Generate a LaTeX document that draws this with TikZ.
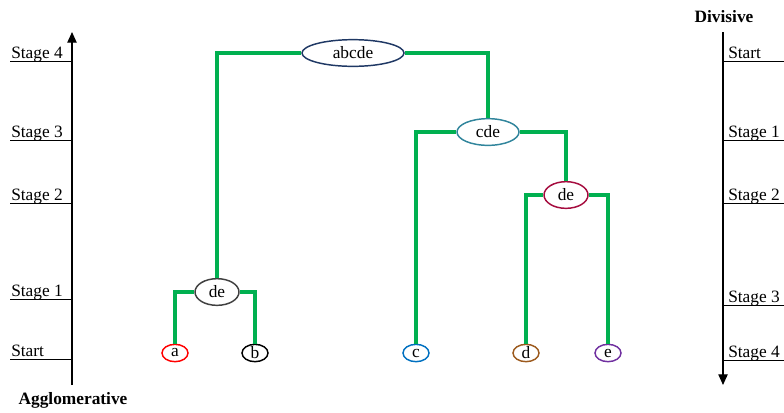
\documentclass[tikz,border=0pt]{standalone}
\usepackage{fontspec}
\setmainfont{Liberation Serif}
\usetikzlibrary{arrows.meta,shapes.geometric}

\definecolor{linkgreen}{HTML}{00B050}
\definecolor{navy}{HTML}{1F3864}
\definecolor{teal}{HTML}{31859C}
\definecolor{crimson}{HTML}{A50B3E}
\definecolor{darkgray}{HTML}{404040}
\definecolor{blueleaf}{HTML}{0070C0}
\definecolor{brownleaf}{HTML}{9C5A1E}
\definecolor{purpleleaf}{HTML}{7030A0}

\begin{document}
\begin{tikzpicture}[x=0.75pt,y=-0.75pt,
  every node/.style={font=\fontsize{13}{15}\selectfont},
  cluster/.style={ellipse,draw,line width=1.1pt,inner sep=0pt,minimum height=20pt},
  leaf/.style={ellipse,draw,line width=1.1pt,inner sep=0pt,minimum width=19.5pt,minimum height=13pt},
  link/.style={draw=linkgreen,line width=2.6pt},
  axis/.style={line width=0.9pt,-{Triangle[length=8pt,width=7pt]}},
  tick/.style={line width=0.6pt},
  stage/.style={anchor=base west,inner sep=0pt}]

\useasboundingbox (0,0) rectangle (784,412);

% Axe agglomeratif
\draw[axis] (72,385) -- (72,32);
\draw[tick] (10,61) -- (72,61);
\draw[tick] (10,140) -- (72,140);
\draw[tick] (10,203) -- (72,203);
\draw[tick] (10,299) -- (72,299);
\draw[tick] (10,359) -- (72,359);
\node[stage] (ls4) at (11,58) {Stage 4};
\node[stage] (ls3) at (11,137) {Stage 3};
\node[stage] (ls2) at (11,200) {Stage 2};
\node[stage] (ls1) at (11,296) {Stage 1};
\node[stage] (ls0) at (11,356) {Start};
\node[anchor=base,inner sep=0pt,font=\fontsize{13}{15}\selectfont\bfseries] (agglo) at (73,404) {Agglomerative};

% Axe divisif
\draw[axis] (723,32) -- (723,385);
\draw[tick] (723,61) -- (784,61);
\draw[tick] (723,140) -- (784,140);
\draw[tick] (723,203) -- (784,203);
\draw[tick] (723,305) -- (784,305);
\draw[tick] (723,360) -- (784,360);
\node[stage] (rs0) at (728,58) {Start};
\node[stage] (rs1) at (728,137) {Stage 1};
\node[stage] (rs2) at (728,200) {Stage 2};
\node[stage] (rs3) at (728,302) {Stage 3};
\node[stage] (rs4) at (728,357) {Stage 4};
\node[anchor=base,inner sep=0pt,font=\fontsize{13}{15}\selectfont\bfseries] (divis) at (724,22) {Divisive};

% Feuilles
\node[leaf,draw=red] (a) at (175,353) {a};
\node[leaf,draw=black] (b) at (255,353) {b};
\node[leaf,draw=blueleaf] (c) at (416,353) {c};
\node[leaf,draw=brownleaf] (d) at (526,353) {d};
\node[leaf,draw=purpleleaf] (e) at (608,353) {e};

% Groupes
\node[cluster,draw=darkgray,minimum width=33pt] (deL) at (217,292) {de};
\node[cluster,draw=crimson,minimum width=33pt] (deR) at (566,195) {de};
\node[cluster,draw=teal,minimum width=46.5pt] (cde) at (488,132) {cde};
\node[cluster,draw=navy,minimum width=76.5pt] (abcde) at (353,53) {abcde};

% Liaisons
\draw[link] (deL.west) -| (a.north);
\draw[link] (deL.east) -| (b.north);
\draw[link] (deR.west) -| (d.north);
\draw[link] (deR.east) -| (e.north);
\draw[link] (cde.west) -| (c.north);
\draw[link] (cde.east) -| (deR.north);
\draw[link] (abcde.west) -| (deL.north);
\draw[link] (abcde.east) -| (cde.north);

\end{tikzpicture}
\end{document}
